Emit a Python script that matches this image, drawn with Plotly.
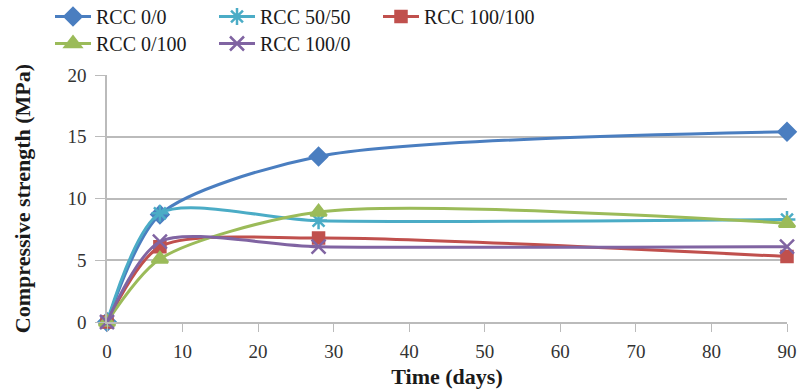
import plotly.graph_objects as go

days = [0, 7, 28, 90]
rcc_0_0 = [0, 8.7, 13.4, 15.4]
rcc_50_50 = [0, 8.8, 8.2, 8.3]
rcc_100_100 = [0, 6.1, 6.8, 5.3]
rcc_0_100 = [0, 5.1, 8.9, 8.0]
rcc_100_0 = [0, 6.5, 6.1, 6.1]

series = [
    ("RCC 0/0", rcc_0_0, "#4A7EC0", "diamond", 13, "legend"),
    ("RCC 50/50", rcc_50_50, "#4BACC6", "asterisk-open", 14, "legend"),
    ("RCC 100/100", rcc_100_100, "#C0504D", "square", 11, "legend"),
    ("RCC 0/100", rcc_0_100, "#9BBB59", "triangle-up", 14, "legend2"),
    ("RCC 100/0", rcc_100_0, "#8064A2", "x-thin-open", 14, "legend2"),
]

fig = go.Figure()
for name, vals, color, sym, size, leg in series:
    fig.add_trace(go.Scatter(
        x=days, y=vals, name=name, mode="lines+markers",
        line=dict(color=color, width=3, shape="spline", smoothing=0.75),
        marker=dict(symbol=sym, size=size, color=color,
                    line=dict(color=color, width=2.5)),
        cliponaxis=False, legend=leg,
    ))

font_family = "Times New Roman, Liberation Serif, serif"
legend_common = dict(
    orientation="h", xref="paper", yref="paper",
    xanchor="left", yanchor="top",
    entrywidth=113, entrywidthmode="pixels",
    font=dict(family=font_family, size=20, color="#1a1a1a"),
    itemwidth=36, tracegroupgap=0,
    bgcolor="rgba(0,0,0,0)",
)
fig.update_layout(
    width=811, height=392,
    margin=dict(l=107, r=24, t=75, b=70, autoexpand=False),
    paper_bgcolor="white", plot_bgcolor="white",
    font=dict(family=font_family, size=19, color="#333333"),
    showlegend=True,
    legend=dict(x=(50 - 107) / 680, y=1 + 78 / 247, **legend_common),
    legend2=dict(x=(50 - 107) / 680, y=1 + 51 / 247, **legend_common),
    xaxis=dict(
        range=[0, 90], tickvals=[0, 10, 20, 30, 40, 50, 60, 70, 80, 90],
        showgrid=False, showline=True, linecolor="#BBBBBB", linewidth=1.5,
        ticks="outside", ticklen=8, tickcolor="#BBBBBB",
        tickfont=dict(family=font_family, size=19, color="#333333"),
        ticklabelstandoff=3,
        zeroline=False,
        title=dict(text="<b>Time (days)</b>", font=dict(family=font_family, size=22, color="#1a1a1a"), standoff=8),
    ),
    yaxis=dict(
        range=[0, 20], tickvals=[0, 5, 10, 15, 20],
        showgrid=True, gridcolor="#BBBBBB", gridwidth=1.5,
        showline=True, linecolor="#BBBBBB", linewidth=1.5,
        ticks="outside", ticklen=10, tickcolor="#BBBBBB",
        tickfont=dict(family=font_family, size=19, color="#333333"),
        ticklabelstandoff=5,
        zeroline=False,
        title=dict(text="<b>Compressive strength (MPa)</b>", font=dict(family=font_family, size=22, color="#1a1a1a"), standoff=31),
    ),
)

fig.write_html("out.html")
